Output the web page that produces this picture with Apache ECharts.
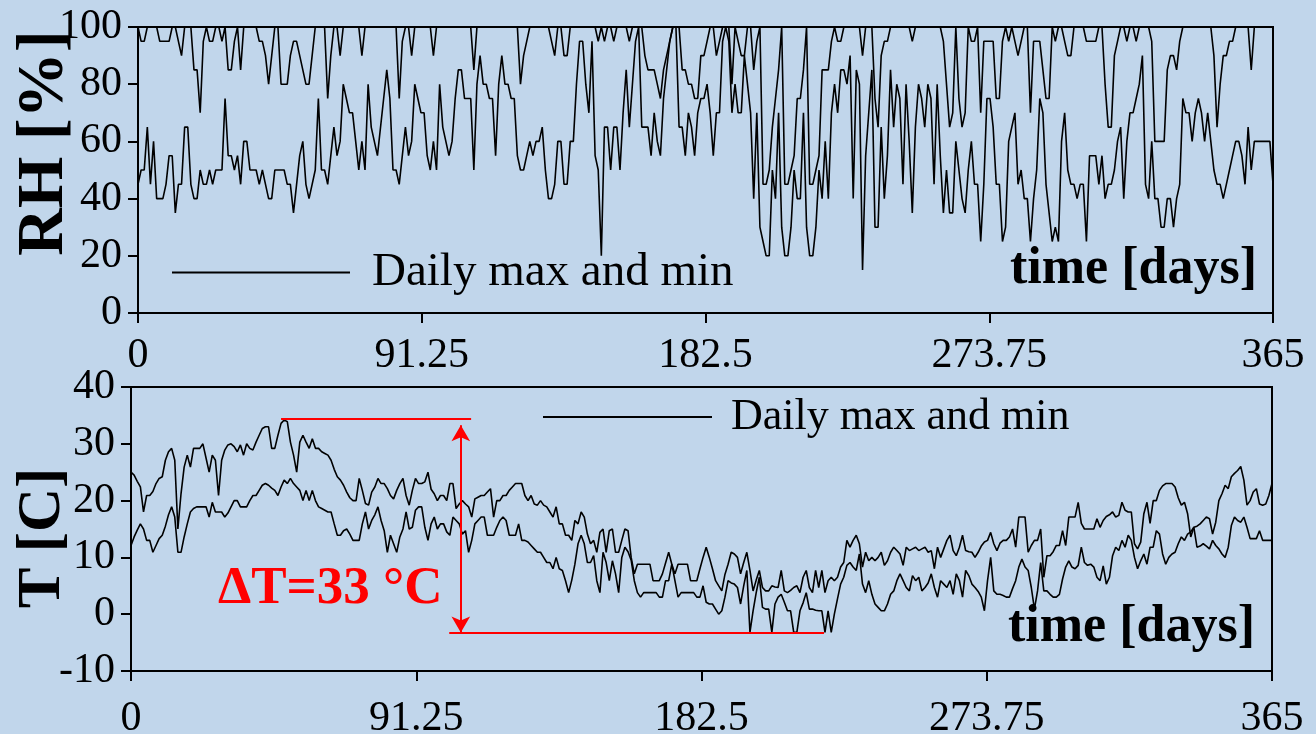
<!DOCTYPE html>
<html><head><meta charset="utf-8">
<script src="https://cdn.jsdelivr.net/npm/echarts@6/dist/echarts.min.js"></script>
<style>html,body{margin:0;padding:0;background:#c1d6eb;}#c{width:1316px;height:734px;}</style>
</head><body><div id="c"></div>
<script>
// Daily relative humidity [%], max and min, day 0..365
const rhMax=[100,95,95,100,100,100,100,95,95,95,
95,100,100,95,90,100,100,100,85,85,
70,95,100,95,95,100,100,95,100,85,
85,95,100,85,100,100,100,100,100,95,
95,90,80,90,100,100,80,80,80,90,
95,95,90,85,80,80,90,100,100,100,
100,75,90,100,100,90,100,100,100,100,
100,100,90,100,100,100,100,100,100,100,
100,100,100,100,75,95,100,100,90,100,
100,100,100,100,100,90,100,100,100,100,
100,100,100,100,100,100,100,100,85,100,
100,100,100,100,100,100,100,100,100,100,
100,100,100,80,90,95,100,100,100,100,
100,100,100,95,90,100,100,90,90,100,
100,100,100,100,100,100,100,100,95,100,
95,100,100,95,100,100,100,100,95,100,
100,100,100,90,85,85,85,80,75,85,
90,95,100,100,100,85,85,80,80,75,
75,90,90,95,100,100,90,95,100,100,
100,80,100,95,90,90,100,100,85,95,
100,45,45,50,65,75,85,100,45,45,
50,55,75,75,85,100,45,45,50,55,
85,85,85,95,100,95,95,100,100,100,
100,100,100,90,100,100,100,75,65,90,
95,95,100,100,100,100,100,100,100,95,
100,100,100,100,100,100,100,100,100,95,
80,65,70,100,75,65,70,100,95,95,
100,70,95,95,95,95,75,75,95,100,
95,100,95,90,95,100,100,70,95,95,
95,85,75,75,100,95,100,100,95,90,
90,100,100,100,100,95,95,95,95,100,
100,80,65,65,90,95,100,100,95,100,
100,95,100,100,100,100,95,60,60,60,
60,85,90,90,85,95,100,100,100,100,
100,100,100,100,100,100,90,65,80,90,
90,95,95,100,100,100,100,100,85,100,
100,100,100,100,100,100];
const rhMin=[45,50,50,65,45,60,40,40,40,45,
55,55,35,45,45,65,65,45,40,40,
50,45,45,50,45,50,50,50,75,55,
55,50,55,45,60,60,50,50,50,45,
50,45,40,40,50,50,50,50,45,45,
35,45,55,60,45,40,45,50,75,50,
50,45,55,65,55,60,80,75,70,70,
60,50,60,50,80,65,60,55,65,75,
85,75,50,50,45,55,65,55,60,80,
75,70,70,55,50,60,50,80,65,60,
55,60,75,85,85,75,75,75,50,80,
90,80,80,75,75,55,80,90,80,80,
75,75,55,50,50,55,60,55,60,60,
65,50,40,40,45,60,60,45,45,60,
60,80,95,95,80,70,95,55,50,20,
65,65,50,65,65,50,70,85,65,80,
95,100,65,65,65,55,70,60,55,75,
85,95,100,100,65,65,55,70,65,55,
70,75,75,80,70,55,70,70,95,100,
95,70,80,70,70,90,80,70,40,70,
30,25,20,20,50,40,70,30,20,20,
30,50,40,40,70,30,20,20,30,50,
40,60,40,70,80,70,85,85,80,90,
40,85,80,15,55,70,85,30,30,65,
40,55,85,65,80,75,45,80,60,35,
65,80,75,65,80,75,45,80,55,35,
50,35,35,60,50,40,35,50,60,45,
45,25,45,75,75,65,45,45,25,30,
60,65,70,45,50,40,40,25,40,50,
75,70,45,35,25,30,25,60,70,50,
45,45,40,45,45,25,55,55,55,45,
55,40,45,45,50,60,65,40,60,70,
70,75,80,90,45,40,60,40,40,30,
30,40,40,30,40,45,75,70,70,60,
70,75,70,60,70,60,50,45,45,40,
45,50,55,60,60,55,45,65,50,60,
60,60,60,60,60,45];
// Daily temperature [C], max and min, day 0..365
const tMax=[25.0,24.5,23.4,22.4,18.0,20.9,20.9,21.6,23.0,23.9,
24.2,27.1,28.6,29.2,27.1,15.0,21.2,25.9,28.0,25.9,
29.2,29.2,29.2,30.0,27.5,25.0,28.0,27.1,20.9,27.1,
28.9,29.8,30.0,29.5,28.6,29.8,28.0,30.0,29.2,28.9,
30.3,31.5,32.7,33.0,33.0,29.2,29.2,31.5,33.6,34.2,
33.9,30.3,28.0,25.0,30.3,31.5,30.3,29.2,30.9,29.2,
29.2,28.6,28.3,28.0,27.1,25.5,24.2,23.6,22.7,21.5,
20.5,20.0,20.0,23.9,21.8,19.5,19.2,21.5,22.4,23.9,
23.0,23.0,22.1,20.9,20.3,21.8,23.0,23.9,20.9,19.2,
21.8,23.9,23.0,23.0,23.3,25.0,22.0,21.2,20.0,20.9,
20.9,20.0,23.0,23.0,18.6,19.4,20.0,19.4,18.9,17.1,
20.3,20.6,20.9,20.9,21.5,22.1,17.1,20.0,20.0,20.9,
20.9,21.8,22.4,23.0,23.0,23.0,20.9,20.0,20.9,19.4,
19.2,20.0,19.2,18.9,18.0,17.1,18.9,15.9,15.9,13.9,
13.9,13.0,16.5,15.9,18.0,17.1,14.1,12.4,13.0,10.9,
14.4,15.0,10.9,14.7,15.0,10.9,10.9,13.0,15.0,14.7,
10.0,7.1,8.8,8.8,8.8,8.8,8.8,5.9,5.9,5.9,
7.1,9.0,10.9,8.8,7.1,8.8,8.8,8.8,8.8,5.9,
5.9,5.9,8.0,10.0,11.8,10.0,8.0,5.9,5.0,4.1,
7.0,8.8,10.9,10.6,10.0,7.1,9.1,10.9,7.7,4.1,
6.0,7.7,4.7,4.1,4.1,5.0,4.8,4.7,7.7,4.1,
3.8,4.2,4.7,5.0,3.8,6.5,7.7,4.7,3.8,7.7,
4.7,7.7,3.8,5.9,6.5,5.9,6.5,8.3,9.1,13.0,
11.8,13.0,13.9,12.4,8.3,10.9,9.4,10.0,9.4,10.0,
10.9,8.6,9.4,10.9,11.8,11.2,10.6,8.6,11.8,11.2,
11.5,11.8,11.2,11.5,11.8,10.9,11.2,8.0,11.8,10.0,
11.5,13.0,13.9,11.2,10.3,11.8,13.9,11.2,11.0,10.9,
10.0,10.9,12.0,12.7,13.0,14.4,12.4,11.2,12.5,13.0,
13.0,13.6,15.0,11.8,17.1,17.1,17.1,10.9,12.1,13.0,
13.0,15.0,6.5,10.3,10.3,11.0,12.1,12.1,14.7,12.1,
17.1,17.1,17.1,19.7,16.0,15.0,15.0,15.0,15.0,16.8,
15.3,16.5,17.2,17.5,18.0,17.1,17.4,19.7,18.3,18.0,
18.0,12.4,11.5,12.7,17.7,19.7,16.0,20.0,20.0,21.8,
22.6,23.0,23.0,23.0,22.4,20.5,19.2,19.7,17.7,13.6,
15.3,15.5,15.9,16.5,17.1,16.8,14.1,16.2,20.0,21.2,
22.7,22.1,24.2,24.8,25.3,26.0,23.6,19.2,20.0,21.5,
22.1,19.4,19.2,19.4,20.9,23.0];
const tMin=[12.1,13.6,14.8,15.9,15.0,13.0,13.0,10.9,12.1,13.3,
13.9,15.5,17.5,18.9,17.1,10.9,10.9,13.6,15.9,18.0,
18.6,18.9,18.9,18.9,18.9,17.1,19.7,18.0,18.0,18.0,
17.1,17.8,18.9,20.0,20.0,18.9,18.9,18.9,20.0,20.9,
20.9,21.8,22.7,23.0,22.7,22.2,21.8,20.9,22.4,23.6,
23.0,23.9,23.0,22.4,21.8,20.0,21.8,20.0,21.8,20.0,
18.9,18.6,18.3,18.0,18.0,15.9,13.9,13.9,14.7,15.0,
14.1,13.0,13.0,13.0,15.9,18.0,15.0,16.5,17.5,18.9,
16.5,14.7,10.9,13.9,12.4,10.9,13.6,15.0,18.0,15.0,
15.3,18.3,18.9,18.9,15.3,13.0,15.9,17.1,15.0,15.9,
15.9,14.5,13.9,17.1,16.5,15.9,14.1,14.7,10.9,13.0,
15.9,16.5,17.1,17.1,13.9,13.9,13.9,15.3,16.5,17.1,
16.5,13.9,13.9,13.9,15.9,13.0,13.0,12.7,12.1,11.5,
10.9,10.9,10.0,9.1,9.1,8.0,10.0,8.0,7.7,5.9,
3.8,6.0,8.8,12.4,13.9,12.4,9.1,9.1,10.3,5.9,
3.8,10.9,9.1,5.9,9.4,7.1,3.8,10.0,11.8,11.0,
9.5,5.9,3.8,3.0,3.8,3.8,3.8,3.8,3.8,3.0,
3.0,5.9,5.9,8.8,5.9,3.0,3.8,3.8,3.8,3.8,
3.8,3.0,3.0,5.0,2.1,1.8,1.8,0.9,0.0,0.6,
3.0,5.9,5.5,5.3,4.7,1.8,5.0,7.7,-3.2,0.6,
3.8,6.5,1.2,0.9,0.9,-3.2,1.8,3.0,3.5,2.1,
0.6,0.6,-3.2,-3.2,0.6,2.0,3.8,0.9,0.9,0.7,
0.6,0.6,-3.2,0.6,-3.2,0.0,2.7,5.3,6.5,8.6,
9.1,8.3,7.7,10.6,5.3,3.8,5.9,3.5,1.8,1.2,
0.6,0.6,1.8,3.5,4.1,5.9,7.1,5.9,4.7,4.1,
6.8,5.9,6.5,4.1,4.7,5.5,7.1,4.7,3.0,5.9,
5.3,4.7,5.9,3.5,7.1,5.9,3.0,7.7,6.8,5.3,
4.7,4.0,3.0,0.6,5.9,10.0,4.1,3.5,3.5,3.3,
3.0,3.0,4.5,5.9,8.3,9.7,8.3,7.7,4.7,0.9,
4.1,9.1,4.1,4.1,3.5,3.0,3.0,3.5,6.2,8.3,
9.4,8.3,8.0,8.6,11.8,9.1,8.6,8.8,8.3,6.5,
5.9,8.5,5.3,6.5,10.3,11.8,11.2,13.0,11.8,13.9,
13.0,10.0,8.0,9.4,10.6,8.8,11.8,11.8,14.7,14.1,
10.6,8.8,10.0,10.6,10.9,12.4,13.6,13.0,14.1,14.5,
15.3,11.8,12.0,12.4,12.0,11.5,13.0,12.1,11.5,10.6,
10.0,11.8,15.6,17.1,16.5,16.2,17.1,15.3,13.3,13.3,
13.3,14.7,13.0,13.0,13.0,13.0];
// Axis ranges / ticks
const xRange=[0,365], xStep=91.25;
const rhRange=[0,100], rhStep=20;
const tRange=[-10,40], tStep=10;
// Delta-T annotation (data units: day, degC)
const dTLabel='ΔT=33 °C';
const dTHigh=34.47, dTLow=-3.23;
const dTHighFrom=48, dTHighTo=108.8, dTLowFrom=101.8, dTLowTo=221.7, dTArrowDay=105.5;
const seriesName='Daily max and min';

const serif='"Liberation Serif","Times New Roman",serif';
const pair=a=>a.map((v,i)=>[i,v]);
const chart=echarts.init(document.getElementById('c'),null,{renderer:'canvas'});
function xAx(g,margin){return {gridIndex:g,type:'value',min:xRange[0],max:xRange[1],interval:xStep,
  axisLine:{show:true,onZero:false,lineStyle:{color:'#000',width:2}},
  axisTick:{show:true,inside:false,length:10,lineStyle:{color:'#000',width:2}},
  splitLine:{show:false},
  axisLabel:{color:'#000',fontFamily:serif,fontSize:42,margin:margin}};}
function yAx(g,r,s){return {gridIndex:g,type:'value',min:r[0],max:r[1],interval:s,
  axisLine:{show:true,onZero:false,lineStyle:{color:'#000',width:2}},
  axisTick:{show:true,inside:false,length:10,lineStyle:{color:'#000',width:2}},
  splitLine:{show:false},
  axisLabel:{color:'#000',fontFamily:serif,fontSize:42,margin:16}};}
function line(data,xi,yi,extra){return Object.assign({name:seriesName,type:'line',xAxisIndex:xi,yAxisIndex:yi,
  data:pair(data),symbol:'none',showSymbol:false,lineStyle:{color:'#000',width:1.6},itemStyle:{color:'#000'},
  emphasis:{disabled:true},silent:true},extra||{});}
const red='#ff0000';
const option={
  backgroundColor:'#c1d6eb',
  animation:false,
  grid:[
    {left:138,top:27,width:1135,height:286,show:true,borderColor:'#000',borderWidth:2,backgroundColor:'transparent',containLabel:false,outerBoundsMode:'none'},
    {left:131,top:387,width:1141,height:284,show:true,borderColor:'#000',borderWidth:2,backgroundColor:'transparent',containLabel:false,outerBoundsMode:'none'}
  ],
  xAxis:[xAx(0,22),xAx(1,27)],
  yAxis:[yAx(0,rhRange,rhStep),yAx(1,tRange,tStep)],
  legend:[
    {left:172,top:249,padding:0,itemWidth:178,itemHeight:2,selectedMode:false,
     data:[{name:seriesName,icon:'rect',itemStyle:{color:'#000'}}],
     textStyle:{fontFamily:serif,fontSize:47,color:'#000',padding:[0,0,0,17]}},
    {left:543,top:395,padding:0,itemWidth:169,itemHeight:2,selectedMode:false,
     data:[{name:seriesName,icon:'rect',itemStyle:{color:'#000'}}],
     textStyle:{fontFamily:serif,fontSize:44,color:'#000',padding:[0,0,0,14]}}
  ],
  series:[
    line(rhMax,0,0),line(rhMin,0,0),
    line(tMax,1,1,{markLine:{silent:true,symbol:'none',label:{show:false},emphasis:{disabled:true},
      lineStyle:{color:red,width:2,type:'solid'},
      data:[
        [{coord:[dTHighFrom,dTHigh]},{coord:[dTHighTo,dTHigh]}],
        [{coord:[dTLowFrom,dTLow]},{coord:[dTLowTo,dTLow]}],
        [{coord:[dTArrowDay,dTHigh-1.2],symbol:'arrow',symbolSize:[14,16]},{coord:[dTArrowDay,dTLow],symbol:'arrow',symbolSize:[14,16]}]
      ]}}),
    line(tMin,1,1)
  ],
  graphic:[
    {type:'text',x:45,y:143,rotation:Math.PI/2,style:{text:'RH [%]',font:'bold 66px '+serif,fill:'#000',align:'center',verticalAlign:'middle',textAlign:'center',textVerticalAlign:'middle'}},
    {type:'text',x:43,y:538,rotation:Math.PI/2,style:{text:'T [C]',font:'bold 61px '+serif,fill:'#000',align:'center',verticalAlign:'middle',textAlign:'center',textVerticalAlign:'middle'}},
    {type:'text',x:1010,y:270,style:{text:'time [days]',font:'bold 52px '+serif,fill:'#000',align:'left',verticalAlign:'middle',textAlign:'left',textVerticalAlign:'middle'}},
    {type:'text',x:1008,y:628,style:{text:'time [days]',font:'bold 52px '+serif,fill:'#000',align:'left',verticalAlign:'middle',textAlign:'left',textVerticalAlign:'middle'}},
    {type:'text',x:218,y:589,style:{text:dTLabel,font:'bold 53px '+serif,fill:red,align:'left',verticalAlign:'middle',textAlign:'left',textVerticalAlign:'middle'}}
  ]
};
chart.setOption(option);
</script></body></html>
